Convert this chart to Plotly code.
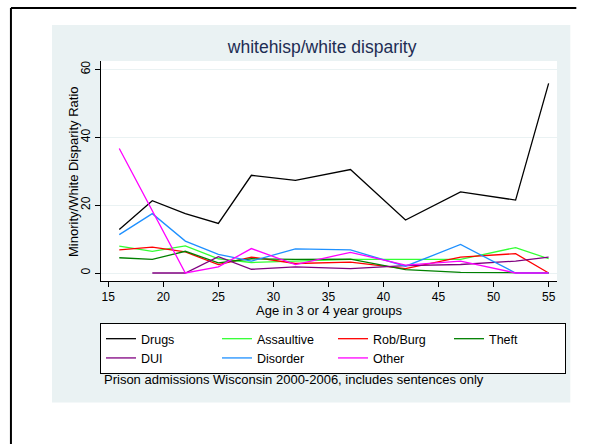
import plotly.graph_objects as go

age = [16, 19, 22, 25, 28, 32, 37, 42, 47, 52, 55]
drugs = [12.8, 21.3, 17.5, 14.6, 28.8, 27.3, 30.5, 15.6, 23.9, 21.5, 55.9]
assaultive = [7.9, 6.4, 8.0, 4.2, 3.1, 3.5, 4.0, 4.0, 4.0, 7.5, 4.2]
robburg = [6.8, 7.6, 6.2, 2.5, 4.7, 2.8, 3.2, 1.3, 4.7, 5.7, 0.0]
theft = [4.5, 4.0, 6.4, 3.0, 4.2, 4.0, 4.1, 1.0, 0.2, 0.0, 0.0]
dui = [None, 0.0, 0.0, 4.8, 1.1, 1.8, 1.3, 2.2, 2.5, 3.5, 4.7]
disorder = [11.3, 17.5, 9.4, 5.5, 3.5, 7.1, 6.8, 2.0, 8.4, 0.0, 0.0]
other = [36.7, 18.3, 0.0, 1.8, 7.2, 2.5, 6.1, 2.3, 3.5, 0.0, 0.0]

series_names = ["Drugs", "Assaultive", "Rob/Burg", "Theft", "DUI", "Disorder", "Other"]
series_vals = [drugs, assaultive, robburg, theft, dui, disorder, other]
series_colors = ["#000000", "#33FF33", "#FF0000", "#008000", "#800080", "#1E90FF", "#FF00FF"]

x_ticks = [15, 20, 25, 30, 35, 40, 45, 50, 55]
y_ticks = [0, 20, 40, 60]

FONT = "Liberation Sans, Arial, sans-serif"

fig = go.Figure()
for name, vals, col in zip(series_names, series_vals, series_colors):
    fig.add_trace(go.Scatter(x=age, y=vals, name=name, mode="lines",
                             line=dict(color=col, width=1.3)))

# plot area in pixels: x 101..556.7, y 61..280.7
L, R, T, B = 101, 556.7, 61, 280.7
W, H = 592, 444
pw, ph = R - L, B - T

def px(x):
    return (x - L) / pw

def py(y):
    return (B - y) / ph

shapes = [
    dict(type="rect", xref="paper", yref="paper", x0=px(52), x1=px(570), y0=py(402), y1=py(25),
         fillcolor="#EAF2F3", line=dict(width=0), layer="below"),
    dict(type="rect", xref="paper", yref="paper", x0=0, x1=1, y0=0, y1=1,
         fillcolor="white", line=dict(width=0), layer="below"),
    dict(type="line", xref="paper", yref="paper", x0=px(11), x1=px(576), y0=py(8), y1=py(8),
         line=dict(color="black", width=2), layer="below"),
    dict(type="line", xref="paper", yref="paper", x0=px(11), x1=px(11), y0=py(8), y1=py(444),
         line=dict(color="black", width=2), layer="below"),
]

annotations = [
    dict(text="Minority/White Disparity Ratio", xref="paper", yref="paper",
         x=px(73), y=0.5, textangle=-90, showarrow=False, xanchor="center", yanchor="middle",
         font=dict(family=FONT, size=13, color="black")),
    dict(text="Age in 3 or 4 year groups", xref="paper", yref="paper",
         x=0.5, y=py(310), showarrow=False, xanchor="center", yanchor="middle",
         font=dict(family=FONT, size=13, color="black")),
    dict(text="Prison admissions Wisconsin 2000-2006, includes sentences only", xref="paper", yref="paper",
         x=px(102), y=py(379), showarrow=False, xanchor="left", yanchor="middle",
         font=dict(family=FONT, size=13, color="black")),
]

fig.update_layout(
    width=W, height=H,
    margin=dict(l=L, r=W - R, t=T, b=H - B, pad=0),
    paper_bgcolor="white", plot_bgcolor="white",
    font=dict(family=FONT, size=12, color="black"),
    title=dict(text="whitehisp/white disparity", xref="paper", x=px(322), xanchor="center",
               yref="container", y=1 - 47 / H, yanchor="middle",
               font=dict(family=FONT, size=17.5, color="#1E2D53")),
    xaxis=dict(range=[14.34, 55.76], tickvals=x_ticks, showgrid=False, zeroline=False,
               showline=True, linecolor="black", linewidth=1, ticks="outside", ticklen=5,
               tickcolor="black", tickfont=dict(family=FONT, size=12, color="black")),
    yaxis=dict(range=[-2.36, 62.5], tickvals=y_ticks, showgrid=True, gridcolor="#EAF2F3",
               gridwidth=1, zeroline=False, showline=True, linecolor="black", linewidth=1,
               ticks="outside", ticklen=5, tickcolor="black", tickangle=-90,
               tickfont=dict(family=FONT, size=12, color="black")),
    legend=dict(orientation="h", x=px(100), y=py(322.7), xanchor="left", yanchor="top",
                bgcolor="white", bordercolor="black", borderwidth=1,
                entrywidth=71, entrywidthmode="pixels",
                font=dict(family=FONT, size=12.5, color="black")),
    shapes=shapes,
    annotations=annotations,
    showlegend=True,
)

fig.write_html(
    "out.html",
    config={"displayModeBar": False},
    post_script=(
        "document.body.style.margin='0';"
        "document.body.style.overflow='hidden';"
        "document.documentElement.style.overflow='hidden';"
    ),
)
